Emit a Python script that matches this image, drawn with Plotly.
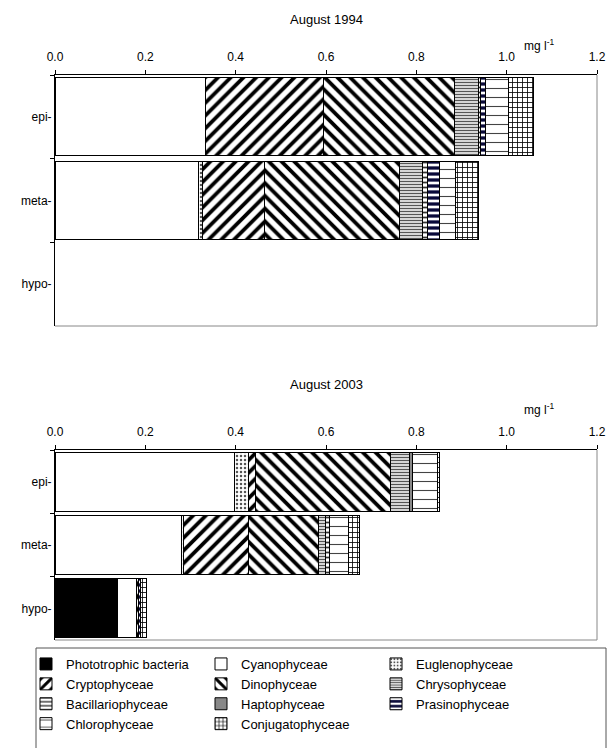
import plotly.graph_objects as go

# Water layers
depths = ["epi-", "meta-", "hypo-"]

# Taxonomic groups, in stacking / legend order
groups = [
    "Phototrophic bacteria", "Cyanophyceae", "Euglenophyceae",
    "Cryptophyceae", "Dinophyceae", "Chrysophyceae",
    "Bacillariophyceae", "Haptophyceae", "Prasinophyceae",
    "Chlorophyceae", "Conjugatophyceae",
]

# Biomass in mg l-1 per layer (epi, meta, hypo) -- August 1994
bact_1994 = [0.000, 0.000, 0.0]
cyano_1994 = [0.333, 0.317, 0.0]
eugl_1994 = [0.000, 0.010, 0.0]
crypto_1994 = [0.261, 0.136, 0.0]
dino_1994 = [0.291, 0.299, 0.0]
chryso_1994 = [0.053, 0.052, 0.0]
bacil_1994 = [0.004, 0.011, 0.0]
hapto_1994 = [0.000, 0.000, 0.0]
prasino_1994 = [0.012, 0.026, 0.0]
chloro_1994 = [0.049, 0.036, 0.0]
conj_1994 = [0.056, 0.051, 0.0]

# Biomass in mg l-1 per layer (epi, meta, hypo) -- August 2003
bact_2003 = [0.000, 0.000, 0.139]
cyano_2003 = [0.398, 0.281, 0.041]
eugl_2003 = [0.030, 0.004, 0.000]
crypto_2003 = [0.015, 0.143, 0.004]
dino_2003 = [0.300, 0.155, 0.000]
chryso_2003 = [0.042, 0.016, 0.000]
bacil_2003 = [0.000, 0.008, 0.000]
hapto_2003 = [0.006, 0.000, 0.000]
prasino_2003 = [0.000, 0.000, 0.006]
chloro_2003 = [0.056, 0.043, 0.000]
conj_2003 = [0.005, 0.024, 0.013]

x_ticks = [0.0, 0.2, 0.4, 0.6, 0.8, 1.0, 1.2]

series_1994 = [bact_1994, cyano_1994, eugl_1994, crypto_1994, dino_1994,
               chryso_1994, bacil_1994, hapto_1994, prasino_1994,
               chloro_1994, conj_1994]
series_2003 = [bact_2003, cyano_2003, eugl_2003, crypto_2003, dino_2003,
               chryso_2003, bacil_2003, hapto_2003, prasino_2003,
               chloro_2003, conj_2003]


# Fill style of each group (black & white hatching)
def pat(shape, fg="black", bg="white", size=8, solidity=0.3):
    return dict(shape=shape, fgcolor=fg, bgcolor=bg, size=size,
                solidity=solidity, fillmode="replace")


styles = {
    "Phototrophic bacteria": dict(color="black"),
    "Cyanophyceae": dict(color="white"),
    "Euglenophyceae": dict(color="white", pattern=pat(".", fg="#555555", size=4, solidity=0.3)),
    "Cryptophyceae": dict(color="white", pattern=pat("/", size=9, solidity=0.42)),
    "Dinophyceae": dict(color="white", pattern=pat("\\", size=9, solidity=0.42)),
    "Chrysophyceae": dict(color="white", pattern=pat("-", fg="#555555", size=3, solidity=0.5)),
    "Bacillariophyceae": dict(color="white", pattern=pat("-", fg="#333333", size=5, solidity=0.35)),
    "Haptophyceae": dict(color="#888888"),
    "Prasinophyceae": dict(color="white", pattern=pat("-", fg="#0a0a3a", size=6, solidity=0.55)),
    "Chlorophyceae": dict(color="white", pattern=pat("-", fg="#444444", size=9, solidity=0.12)),
    "Conjugatophyceae": dict(color="white", pattern=pat("+", size=5, solidity=0.3)),
}

fig = go.Figure()

for axis_id, series in (("", series_1994), ("2", series_2003)):
    for name, vals in zip(groups, series):
        st = styles[name]
        marker = dict(color=st["color"], line=dict(color="black", width=1))
        if "pattern" in st:
            marker["pattern"] = st["pattern"]
        # empty segments are left out so they draw no outline
        xs = [v if v > 0 else None for v in vals]
        fig.add_trace(go.Bar(
            x=xs, y=depths, orientation="h", name=name,
            marker=marker, xaxis="x" + axis_id, yaxis="y" + axis_id,
            showlegend=(axis_id == ""), legendgroup=name,
        ))

FONT = "Liberation Sans, Arial, sans-serif"
W, H = 616, 748
left, right = 55 / W, 597 / W
dom_top = [1 - 326 / H, 1 - 75 / H]
dom_bot = [1 - 640 / H, 1 - 450 / H]

xaxis_common = dict(
    range=[0, 1.2], tickvals=x_ticks, tickformat=".1f", side="top",
    ticks="outside", ticklen=4, tickcolor="black", showline=True,
    linecolor="black", linewidth=1, showgrid=False, zeroline=False,
    domain=[left, right], tickfont=dict(size=12, color="black"),
    ticklabelstandoff=4, fixedrange=True, automargin=False,
)
yaxis_common = dict(
    categoryorder="array", categoryarray=depths, autorange="reversed",
    ticks="outside", ticklen=4, tickcolor="black", tickson="boundaries",
    showline=True, linecolor="black", linewidth=1, showgrid=False,
    tickfont=dict(size=12, color="black"), fixedrange=True, automargin=False,
)

fig.update_layout(
    width=W, height=H,
    margin=dict(l=0, r=0, t=0, b=0, autoexpand=False),
    paper_bgcolor="white", plot_bgcolor="white",
    font=dict(family=FONT, size=12, color="black"),
    barmode="stack", bargap=0.07,
    xaxis=dict(xaxis_common, anchor="y"),
    yaxis=dict(yaxis_common, domain=dom_top, anchor="x"),
    xaxis2=dict(xaxis_common, anchor="y2"),
    yaxis2=dict(yaxis_common, domain=dom_bot, anchor="x2"),
    legend=dict(
        orientation="h", x=26 / W, xanchor="left", y=1 - 649 / H, yanchor="top",
        entrywidth=130, entrywidthmode="pixels",
        borderwidth=0, bgcolor="rgba(0,0,0,0)",
        font=dict(size=13, family=FONT), traceorder="normal",
    ),
    showlegend=True,
)

# Gray frame on the right and bottom of each plot area
for xr, yr in (("x domain", "y domain"), ("x2 domain", "y2 domain")):
    fig.add_shape(type="line", xref=xr, yref=yr, x0=1, x1=1, y0=0, y1=1,
                  line=dict(color="#888888", width=1), layer="below")
    fig.add_shape(type="line", xref=xr, yref=yr, x0=0, x1=1, y0=0, y1=0,
                  line=dict(color="#888888", width=1), layer="below")

# Frame around the legend
fig.add_shape(type="rect", xref="paper", yref="paper",
              x0=36 / W, x1=606 / W, y0=-0.01, y1=1 - 648 / H,
              line=dict(color="#555555", width=1), layer="below")

# Titles and unit labels
for title, ty, uy in (("August 1994", 1 - 10 / H, 1 - 35 / H),
                      ("August 2003", 1 - 384 / H, 1 - 409 / H)):
    fig.add_annotation(text=title, x=326 / W, y=ty, xref="paper", yref="paper",
                       showarrow=False, font=dict(size=13))
    fig.add_annotation(text="mg l<sup>-1</sup>", x=556 / W, y=uy, xref="paper",
                       yref="paper", showarrow=False, font=dict(size=12))

fig.write_html("out.html")
